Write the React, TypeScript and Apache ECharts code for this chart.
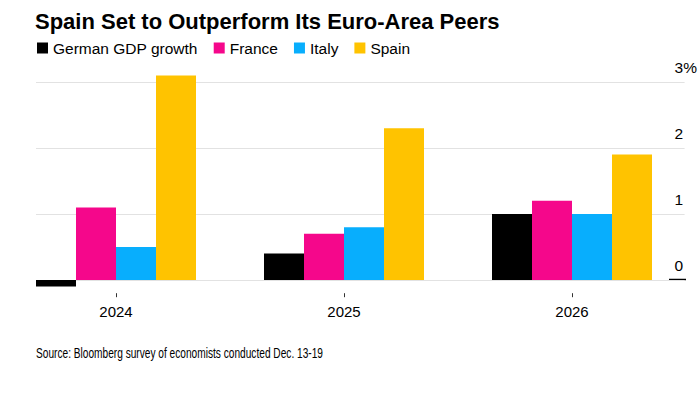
import React, { useEffect, useRef } from "react";
import * as echarts from "echarts";

const categories = ["2024", "2025", "2026"];
const germany = [-0.1, 0.4, 1.0];
const france = [1.1, 0.7, 1.2];
const italy = [0.5, 0.8, 1.0];
const spain = [3.1, 2.3, 1.9];
const seriesNames = ["German GDP growth", "France", "Italy", "Spain"];
const seriesColors = ["#000000", "#f5078b", "#08aefd", "#ffc300"];
const yTickMax = 3;
const barAxisMin = -0.2;

const FONT = "'Liberation Sans', Arial, sans-serif";

export default function App() {
  const ref = useRef<HTMLDivElement>(null);
  useEffect(() => {
    if (!ref.current) return;
    const chart = echarts.init(ref.current, undefined, { renderer: "svg" });
    const values = [germany, france, italy, spain];
    const baseGraphics: any[] = [
      {
        id: "zeroMark",
        type: "line",
        shape: { x1: 669, y1: 279.5, x2: 686, y2: 279.5 },
        style: { stroke: "#000", lineWidth: 1.5 },
      },
      {
        id: "source",
        type: "text",
        x: 36,
        y: 346,
        scaleX: 0.725,
        style: {
          text: "Source: Bloomberg survey of economists conducted Dec. 13-19",
          font: "14px " + FONT,
          fill: "#000",
        },
      },
    ];
    chart.setOption({
      animation: false,
      backgroundColor: "#ffffff",
      textStyle: { fontFamily: FONT },
      title: {
        text: "Spain Set to Outperform Its Euro-Area Peers",
        left: 30,
        top: 5,
        textStyle: { fontSize: 22, fontWeight: "bold", color: "#000", fontFamily: FONT },
      },
      legend: {
        left: 32,
        top: 35,
        icon: "rect",
        itemWidth: 11,
        itemHeight: 11,
        itemGap: 16,
        textStyle: { fontSize: 15.5, color: "#000", fontFamily: FONT },
        data: seriesNames,
      },
      grid: [
        { left: 36, right: 14, top: 82, bottom: 114 },
        { left: 2, right: 14, top: 55.6, bottom: 100.8 },
      ],
      xAxis: [
        { gridIndex: 0, type: "category", data: categories, show: false },
        {
          gridIndex: 1,
          type: "category",
          data: categories,
          axisLine: { show: false, onZero: false },
          axisTick: { show: false },
          axisLabel: { fontSize: 15, color: "#000", margin: 11, fontFamily: FONT },
        },
      ],
      yAxis: [
        {
          gridIndex: 0,
          type: "value",
          min: 0,
          max: yTickMax,
          interval: 1,
          position: "right",
          axisLine: { show: false },
          axisTick: { show: false },
          splitLine: { show: true, lineStyle: { color: "#e2e2e2", width: 1 } },
          axisLabel: {
            fontSize: 15.5,
            color: "#000",
            align: "left",
            verticalAlign: "bottom",
            margin: -10,
            padding: [0, 0, 7, 0],
            fontFamily: FONT,
            formatter: (v: number) => (v === yTickMax ? v + "%" : String(v)),
          },
        },
        {
          gridIndex: 1,
          type: "value",
          min: barAxisMin,
          max: 3.4,
          show: false,
          splitLine: { show: false },
        },
      ],
      series: seriesNames.map((name, i) => ({
        name,
        type: "bar",
        xAxisIndex: 1,
        yAxisIndex: 1,
        data: values[i],
        barWidth: 40,
        barGap: "0%",
        itemStyle: { color: seriesColors[i] },
      })),
      graphic: baseGraphics,
    });

    // Category ticks placed through the library's own scales
    const yBase = chart.convertToPixel({ yAxisIndex: 1 }, barAxisMin) as number;
    const tickGraphics = categories.map((c, i) => {
      const x = Math.round(chart.convertToPixel({ xAxisIndex: 1 }, c) as number) + 0.5;
      return {
        id: "tick" + i,
        type: "line",
        shape: { x1: x, y1: yBase, x2: x, y2: yBase + 4 },
        style: { stroke: "#333", lineWidth: 1 },
      };
    });
    chart.setOption({ graphic: [...baseGraphics, ...tickGraphics] });

    return () => chart.dispose();
  }, []);
  return (
    <div
      ref={ref}
      style={{ position: "absolute", left: 0, top: 0, width: 700, height: 394 }}
    />
  );
}
